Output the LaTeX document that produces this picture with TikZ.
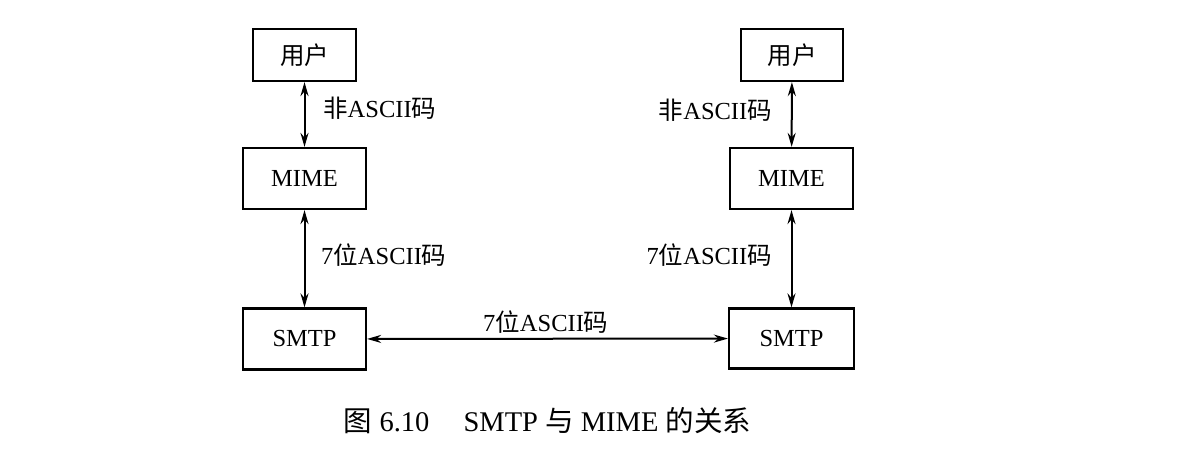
\documentclass[tikz,border=0pt]{standalone}
\usepackage{fontspec}
\setmainfont{Liberation Serif}
\newfontfamily\cjk{Noto Sans CJK SC}
\usetikzlibrary{arrows.meta}
\begin{document}
\begin{tikzpicture}[x=1pt,y=-1pt,
  box/.style={draw,line width=2.2pt,inner sep=0pt,font=\fontsize{24.5}{28}\selectfont},
  lbl/.style={inner sep=0pt,font=\fontsize{24.5}{28}\selectfont},
  conn/.style={line width=2pt,{Stealth[length=14pt,width=8pt]}-{Stealth[length=14pt,width=8pt]}}]
\useasboundingbox (0,0) rectangle (1190,452);
\node[box,minimum width=103pt,minimum height=52pt] (u1) at (304.5,55) {\cjk 用户};
\node[box,minimum width=123pt,minimum height=61pt] (m1) at (304.5,178.5) {MIME};
\node[box,minimum width=123pt,minimum height=61pt] (s1) at (304.5,339) {SMTP};
\node[box,minimum width=102pt,minimum height=52pt] (u2) at (792,55) {\cjk 用户};
\node[box,minimum width=123pt,minimum height=61pt] (m2) at (791.5,178.5) {MIME};
\node[box,minimum width=125pt,minimum height=60pt] (s2) at (791.5,338.5) {SMTP};
\draw[conn] (u1) -- (m1);
\draw[conn] (m1) -- (s1);
\draw[conn] (u2) -- (m2);
\draw[conn] (m2) -- (s2);
\draw[conn] (s1) -- (s2);
\node[lbl,anchor=west] (a1) at (323,108) {{\cjk 非}ASCII{\cjk 码}};
\node[lbl,anchor=east] (a2) at (772,110) {{\cjk 非}ASCII{\cjk 码}};
\node[lbl,anchor=west] (b1) at (321,255) {7{\cjk 位}ASCII{\cjk 码}};
\node[lbl,anchor=east] (b2) at (772,255) {7{\cjk 位}ASCII{\cjk 码}};
\node[lbl,anchor=west] (c) at (483,322) {7{\cjk 位}ASCII{\cjk 码}};
\node[lbl,font=\fontsize{28.5}{32}\selectfont] (cap) at (547.5,421) {{\cjk 图} 6.10\hspace{1.2em}SMTP {\cjk 与} MIME {\cjk 的关系}};
\end{tikzpicture}
\end{document}
